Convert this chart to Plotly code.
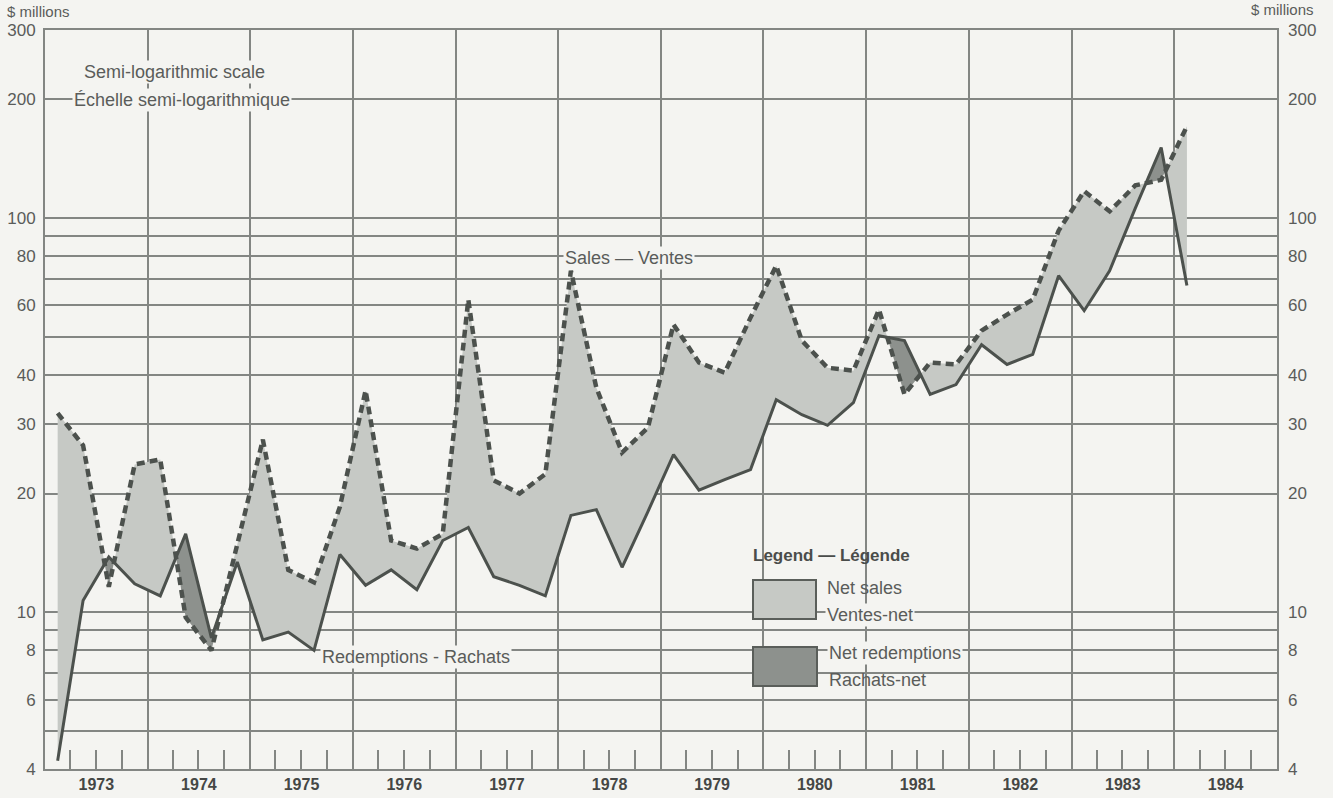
import numpy as np
import pandas as pd
import plotly.graph_objects as go

# ---------------- data (quarterly, $ millions) ----------------
quarters = pd.period_range("1973Q1", "1984Q1", freq="Q")
sales = [32.0, 26.5, 11.6, 23.7, 24.4, 9.7, 8.0, 14.8, 27.4, 12.8, 11.9, 18.5,
         36.5, 15.2, 14.5, 15.8, 62.1, 21.6, 20.0, 22.4, 73.5, 37.1, 25.4, 29.4,
         53.7, 43.0, 40.5, 55.9, 75.7, 48.9, 41.7, 41.0, 58.6, 35.7, 43.0, 42.5,
         51.8, 56.9, 62.1, 92.9, 117.0, 104.0, 121.0, 125.0, 171.0]
redemptions = [4.2, 10.7, 13.8, 11.8, 11.0, 15.8, 8.6, 13.4, 8.5, 8.9, 8.0, 14.0,
               11.7, 12.8, 11.4, 15.2, 16.4, 12.3, 11.7, 11.0, 17.6, 18.2, 13.0, 18.0,
               25.1, 20.4, 21.7, 23.0, 34.6, 31.7, 29.8, 34.0, 50.3, 48.9, 35.7, 37.8,
               47.7, 42.5, 45.1, 71.4, 58.2, 73.5, 106.0, 151.0, 67.4]
y_ticks = [4, 6, 8, 10, 20, 30, 40, 60, 80, 100, 200, 300]
y_minor_grid = [5, 7, 9, 50, 70, 90]

# ---------------- styling ----------------
BG = "#f4f4f1"
GRID = "#838683"
LIGHT = "#c6c9c5"
DARK = "#8d918d"
LINE = "#4c514d"
TXT = "#5a5c5a"
FONT = "Liberation Sans, Arial, sans-serif"

# quarter midpoints as timestamps
mid = [p.start_time + (p.end_time - p.start_time) / 2 for p in quarters]
xn = np.array([m.value for m in mid], dtype=float)  # ns
ls = np.log10(np.array(sales))
lr = np.log10(np.array(redemptions))

# build sequence of points with interpolated crossings (in log space)
pts = []
for i in range(len(xn)):
    pts.append((xn[i], ls[i], lr[i], False))
    if i < len(xn) - 1:
        d0 = ls[i] - lr[i]
        d1 = ls[i + 1] - lr[i + 1]
        if d0 * d1 < 0:
            t = d0 / (d0 - d1)
            xc = xn[i] + t * (xn[i + 1] - xn[i])
            yc = ls[i] + t * (ls[i + 1] - ls[i])
            pts.append((xc, yc, yc, True))

regions = []
cur = []
for p in pts:
    cur.append(p)
    if p[3]:
        regions.append(cur)
        cur = [p]
if len(cur) > 1:
    regions.append(cur)

fig = go.Figure()

for reg in regions:
    inner = [p for p in reg if not p[3]]
    sign = np.mean([p[1] - p[2] for p in inner])
    xs = [p[0] for p in reg] + [p[0] for p in reversed(reg)]
    ys = [10 ** p[1] for p in reg] + [10 ** p[2] for p in reversed(reg)]
    fig.add_trace(go.Scatter(
        x=pd.to_datetime(np.array(xs, dtype="int64")), y=ys,
        mode="lines", fill="toself",
        fillcolor=LIGHT if sign > 0 else DARK,
        line=dict(width=0), hoverinfo="skip", showlegend=False))

fig.add_trace(go.Scatter(x=mid, y=redemptions, mode="lines",
                         line=dict(color=LINE, width=3),
                         name="Redemptions - Rachats", showlegend=False))
fig.add_trace(go.Scatter(x=mid, y=sales, mode="lines",
                         line=dict(color=LINE, width=4.5, dash="8px,5px"),
                         name="Sales — Ventes", showlegend=False))
# helper trace for the right-hand axis
fig.add_trace(go.Scatter(x=mid, y=sales, yaxis="y2", mode="lines", opacity=0,
                         hoverinfo="skip", showlegend=False))

# ---------------- layout geometry (reference pixel coords) ----------------
W, H = 1333, 798
L, R, T, B = 45, 1277, 30, 769


def fx(x):
    return (x - L) / (R - L)


def fy(y):
    return (B - y) / (B - T)


yrange = [np.log10(4), np.log10(300)]

fig.update_layout(
    width=W, height=H,
    margin=dict(l=L, r=W - R, t=T, b=H - B, autoexpand=False),
    paper_bgcolor=BG, plot_bgcolor=BG,
    font=dict(family=FONT, color=TXT, size=17),
    xaxis=dict(
        type="date", automargin=False,
        range=[quarters[0].start_time, pd.Timestamp("1985-01-01")],
        tick0="1973-01-01", dtick="M12", tickformat="%Y",
        ticklabelmode="period", ticks="",
        showgrid=True, gridcolor=GRID, gridwidth=1.7,
        showline=True, linecolor=GRID, linewidth=2, mirror=True,
        tickfont=dict(family=FONT, size=16, color="#454745", weight="bold"),
        minor=dict(tick0="1973-01-01", dtick="M3", ticks="inside",
                   ticklen=19, tickwidth=2, tickcolor=GRID, showgrid=False),
        zeroline=False,
    ),
    yaxis=dict(
        type="log", range=yrange, automargin=False,
        tickmode="array", tickvals=y_ticks, ticktext=[str(v) for v in y_ticks],
        showgrid=True, gridcolor=GRID, gridwidth=1.7,
        minor=dict(tickmode="array", tickvals=y_minor_grid, showgrid=True,
                   gridcolor=GRID, gridwidth=1.7, ticks=""),
        showline=True, linecolor=GRID, linewidth=2, mirror=True,
        ticks="", ticklabelstandoff=4,
        tickfont=dict(family=FONT, size=17, color=TXT),
        zeroline=False,
    ),
    yaxis2=dict(
        type="log", range=yrange, overlaying="y", side="right", automargin=False,
        tickmode="array", tickvals=y_ticks, ticktext=[str(v) for v in y_ticks],
        showgrid=False, ticks="", ticklabelstandoff=10,
        tickfont=dict(family=FONT, size=17, color=TXT),
        zeroline=False,
    ),
)

# masks around legend (hide grid lines, stay below data)
shapes = [
    dict(type="rect", xref="paper", yref="paper", layer="between",
         x0=fx(738), x1=fx(958), y0=fy(623), y1=fy(538),
         fillcolor=BG, line=dict(width=0)),
    dict(type="rect", xref="paper", yref="paper", layer="between",
         x0=fx(738), x1=fx(975), y0=fy(701), y1=fy(623),
         fillcolor=BG, line=dict(width=0)),
    # legend swatches
    dict(type="rect", xref="paper", yref="paper", layer="above",
         x0=fx(753), x1=fx(816), y0=fy(619), y1=fy(580),
         fillcolor=LIGHT, line=dict(color="#5a5e5a", width=2)),
    dict(type="rect", xref="paper", yref="paper", layer="above",
         x0=fx(753), x1=fx(817), y0=fy(686), y1=fy(647),
         fillcolor=DARK, line=dict(color="#5a5e5a", width=2)),
]
fig.update_layout(shapes=shapes)

ann = []


def add_text(text, x, y, xanchor="left", size=18, bold=False, bg=None, color=TXT):
    d = dict(text=text, xref="paper", yref="paper", x=fx(x), y=fy(y),
             xanchor=xanchor, yanchor="middle", showarrow=False,
             font=dict(family=FONT, size=size, color=color,
                       weight="bold" if bold else "normal"))
    if bg:
        d.update(bgcolor=bg, borderpad=1)
    ann.append(d)


add_text("$ millions", 5, 12, size=15)
add_text("$ millions", 1316, 9, xanchor="right", size=15)
add_text("Semi-logarithmic scale", 82, 72, bg=BG)
add_text("Échelle semi-logarithmique", 72, 100, bg=BG)
add_text("Sales — Ventes", 563, 258, bg=BG)
add_text("Redemptions - Rachats", 320, 657, bg=BG)
add_text("Legend — Légende", 751, 555, size=17, bold=True, color="#4a4c4a")
add_text("Net sales", 825, 588)
add_text("Ventes-net", 825, 615, bg=BG)
add_text("Net redemptions", 827, 653, bg=BG)
add_text("Rachats-net", 827, 680)
fig.update_layout(annotations=ann)

# remove the browser's default page margin so the figure fills the window
fig.write_html("out.html",
               config={"displayModeBar": False},
               post_script="document.body.style.margin='0';"
                           "document.body.style.background='" + BG + "';")
